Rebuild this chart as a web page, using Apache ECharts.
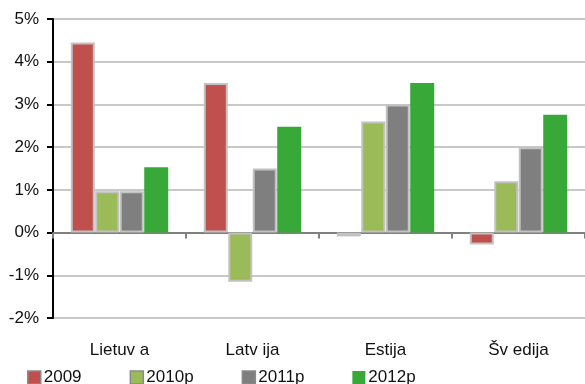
<!DOCTYPE html>
<html>
<head>
<meta charset="utf-8">
<script src="https://cdn.jsdelivr.net/npm/echarts@6/dist/echarts.min.js"></script>
<style>
html,body{margin:0;padding:0;background:#fff;}
#chart{width:585px;height:384px;}
</style>
</head>
<body>
<div id="chart"></div>
<script>
var categories = ['Lietuv a', 'Latv ija', 'Estija', 'Šv edija'];
var seriesNames = ['2009', '2010p', '2011p', '2012p'];
var values2009 = [4.45, 3.5, -0.09, -0.28];
var values2010p = [0.97, -1.15, 2.6, 1.2];
var values2011p = [0.97, 1.5, 3.0, 2.0];
var values2012p = [1.53, 2.48, 3.5, 2.76];
var yTicks = [-2, -1, 0, 1, 2, 3, 4, 5];

var colors = ['#C0504D', '#9BBB59', '#7F7F7F', '#38A838'];
var seriesData = [values2009, values2010p, values2011p, values2012p];
var FONT = "'Liberation Sans', Arial, sans-serif";

var chart = echarts.init(document.getElementById('chart'), null, {renderer: 'canvas'});

var series = seriesNames.map(function (name, i) {
  var bordered = i < 3;
  return {
    name: name,
    type: 'bar',
    xAxisIndex: 0,
    yAxisIndex: 0,
    data: seriesData[i],
    barWidth: 24,
    barGap: '2%',
    itemStyle: {
      color: colors[i],
      borderColor: bordered ? '#c2c2c2' : colors[i],
      borderWidth: bordered ? 2 : 0
    },
    emphasis: {disabled: true},
    animation: false
  };
});

var legendData = seriesNames.map(function (name, i) {
  var bordered = i < 3;
  return {
    name: name,
    itemStyle: bordered ? {color: colors[i], borderColor: '#8a8a8a', borderWidth: 1.5}
                        : {color: colors[i], borderWidth: 0}
  };
});

chart.setOption({
  animation: false,
  textStyle: {fontFamily: FONT},
  grid: {left: 53, top: 19, width: 536, height: 299, containLabel: false},
  legend: {
    data: legendData,
    left: 22,
    top: 364,
    itemWidth: 13,
    itemHeight: 13,
    itemGap: 48,
    icon: 'rect',
    textStyle: {fontFamily: FONT, fontSize: 17, color: '#111', padding: [0, 0, 0, -2]},
    selectedMode: false
  },
  xAxis: [
    {
      type: 'category',
      data: categories,
      axisLine: {show: true, onZero: true, lineStyle: {color: '#808080', width: 2}},
      axisTick: {show: true, length: 6, lineStyle: {color: '#808080', width: 2}},
      axisLabel: {show: false},
      splitLine: {show: false}
    },
    {
      type: 'category',
      data: categories,
      position: 'bottom',
      axisLine: {show: false, onZero: false},
      axisTick: {show: false},
      axisLabel: {show: true, margin: 24, fontSize: 17, color: '#111', fontFamily: FONT},
      splitLine: {show: false}
    }
  ],
  yAxis: {
    type: 'value',
    min: yTicks[0],
    max: yTicks[yTicks.length - 1],
    interval: 1,
    axisLine: {show: true, lineStyle: {color: '#000', width: 2}},
    axisTick: {show: true, length: 6, lineStyle: {color: '#000', width: 2}},
    axisLabel: {
      margin: 14,
      fontSize: 17,
      color: '#111',
      fontFamily: FONT,
      formatter: function (v) { return v + '%'; }
    },
    splitLine: {show: true, lineStyle: {color: '#c8c8c8', width: 2}}
  },
  series: series
});
</script>
</body>
</html>
